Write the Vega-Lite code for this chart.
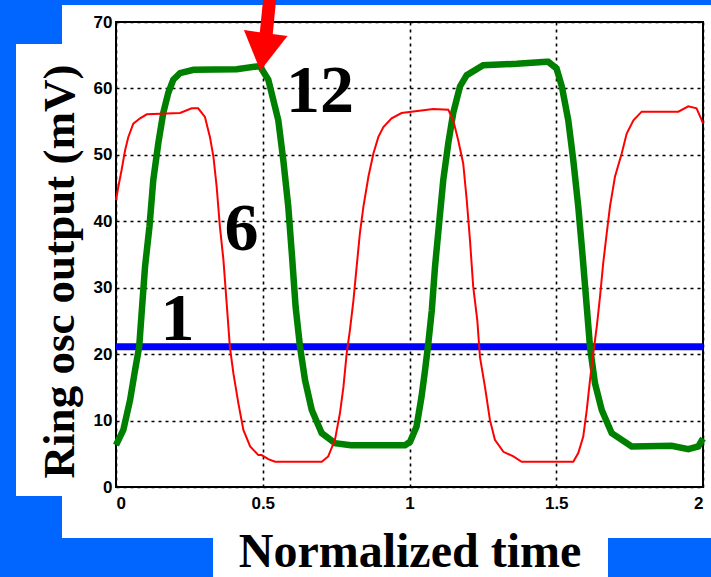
{
  "$schema": "https://vega.github.io/schema/vega-lite/v6.json",
  "width": 587,
  "height": 465,
  "autosize": {"type": "none"},
  "padding": {"left": 116, "top": 22, "right": 8, "bottom": 90},
  "background": "white",
  "config": {
    "view": {"stroke": "black", "strokeWidth": 2},
    "numberFormat": "~f",
    "axis": {
      "grid": true, "gridColor": "black", "gridDash": [3, 4], "gridWidth": 1.6, "gridOpacity": 1,
      "domain": false, "ticks": false,
      "labelFont": "Liberation Sans", "labelFontWeight": "bold", "labelFontSize": 17, "labelColor": "black",
      "titleFont": "Liberation Serif", "titleFontWeight": "bold", "titleColor": "black"
    },
    "axisX": {"tickCount": 4, "labelPadding": 8, "titleFontSize": 48, "titleBaseline": "alphabetic", "titleY": 79},
    "axisY": {"tickCount": 8, "labelPadding": 4, "titleFontSize": 45, "titleBaseline": "alphabetic", "titleX": -43, "titleY": 249}
  },
  "datasets": {
    "curves": [
      {"t":0,"v":6.3,"n":"12"},{"t":0.025,"v":8.6,"n":"12"},{"t":0.048,"v":13.1,"n":"12"},{"t":0.065,"v":17.6,"n":"12"},{"t":0.079,"v":21.1,"n":"12"},{"t":0.088,"v":26.6,"n":"12"},{"t":0.099,"v":33.2,"n":"12"},{"t":0.114,"v":39.2,"n":"12"},{"t":0.127,"v":46.2,"n":"12"},{"t":0.144,"v":51.7,"n":"12"},{"t":0.161,"v":56.3,"n":"12"},{"t":0.178,"v":59.3,"n":"12"},{"t":0.195,"v":61.3,"n":"12"},{"t":0.218,"v":62.3,"n":"12"},{"t":0.264,"v":62.8,"n":"12"},{"t":0.411,"v":62.9,"n":"12"},{"t":0.479,"v":63.3,"n":"12"},{"t":0.491,"v":63.3,"n":"12"},{"t":0.519,"v":61.3,"n":"12"},{"t":0.553,"v":55.2,"n":"12"},{"t":0.570,"v":49.2,"n":"12"},{"t":0.587,"v":42.2,"n":"12"},{"t":0.599,"v":35.2,"n":"12"},{"t":0.612,"v":27.1,"n":"12"},{"t":0.627,"v":21.1,"n":"12"},{"t":0.644,"v":16.1,"n":"12"},{"t":0.667,"v":11.6,"n":"12"},{"t":0.701,"v":8.1,"n":"12"},{"t":0.746,"v":6.6,"n":"12"},{"t":0.8,"v":6.3,"n":"12"},{"t":0.985,"v":6.3,"n":"12"},{"t":1.002,"v":6.8,"n":"12"},{"t":1.024,"v":9.1,"n":"12"},{"t":1.041,"v":13.6,"n":"12"},{"t":1.053,"v":17.6,"n":"12"},{"t":1.064,"v":21.6,"n":"12"},{"t":1.076,"v":26.6,"n":"12"},{"t":1.087,"v":33.2,"n":"12"},{"t":1.102,"v":40.2,"n":"12"},{"t":1.115,"v":46.2,"n":"12"},{"t":1.132,"v":51.7,"n":"12"},{"t":1.149,"v":56.3,"n":"12"},{"t":1.172,"v":60.3,"n":"12"},{"t":1.195,"v":62.0,"n":"12"},{"t":1.251,"v":63.5,"n":"12"},{"t":1.365,"v":63.7,"n":"12"},{"t":1.467,"v":64.0,"n":"12"},{"t":1.473,"v":64.0,"n":"12"},{"t":1.501,"v":63.0,"n":"12"},{"t":1.519,"v":60.3,"n":"12"},{"t":1.541,"v":55.2,"n":"12"},{"t":1.558,"v":49.2,"n":"12"},{"t":1.575,"v":42.2,"n":"12"},{"t":1.589,"v":35.2,"n":"12"},{"t":1.604,"v":27.1,"n":"12"},{"t":1.615,"v":21.1,"n":"12"},{"t":1.632,"v":15.6,"n":"12"},{"t":1.655,"v":11.6,"n":"12"},{"t":1.689,"v":8.1,"n":"12"},{"t":1.757,"v":6.1,"n":"12"},{"t":1.893,"v":6.2,"n":"12"},{"t":1.950,"v":5.7,"n":"12"},{"t":1.984,"v":6.1,"n":"12"},{"t":2.0,"v":7.3,"n":"12"},
      {"t":0,"v":43.2,"n":"6"},{"t":0.008,"v":45.2,"n":"6"},{"t":0.019,"v":47.7,"n":"6"},{"t":0.031,"v":50.7,"n":"6"},{"t":0.042,"v":52.7,"n":"6"},{"t":0.059,"v":54.7,"n":"6"},{"t":0.082,"v":55.5,"n":"6"},{"t":0.105,"v":56.1,"n":"6"},{"t":0.218,"v":56.3,"n":"6"},{"t":0.258,"v":57.0,"n":"6"},{"t":0.280,"v":57.0,"n":"6"},{"t":0.303,"v":55.7,"n":"6"},{"t":0.320,"v":52.7,"n":"6"},{"t":0.332,"v":49.7,"n":"6"},{"t":0.343,"v":45.2,"n":"6"},{"t":0.354,"v":39.2,"n":"6"},{"t":0.366,"v":34.2,"n":"6"},{"t":0.377,"v":27.7,"n":"6"},{"t":0.388,"v":21.1,"n":"6"},{"t":0.400,"v":17.1,"n":"6"},{"t":0.417,"v":12.6,"n":"6"},{"t":0.434,"v":8.6,"n":"6"},{"t":0.457,"v":6.1,"n":"6"},{"t":0.485,"v":4.8,"n":"6"},{"t":0.496,"v":4.8,"n":"6"},{"t":0.519,"v":4.2,"n":"6"},{"t":0.542,"v":3.8,"n":"6"},{"t":0.701,"v":3.8,"n":"6"},{"t":0.723,"v":4.6,"n":"6"},{"t":0.746,"v":7.1,"n":"6"},{"t":0.763,"v":11.1,"n":"6"},{"t":0.775,"v":15.1,"n":"6"},{"t":0.786,"v":20.1,"n":"6"},{"t":0.797,"v":23.6,"n":"6"},{"t":0.809,"v":28.1,"n":"6"},{"t":0.820,"v":33.2,"n":"6"},{"t":0.831,"v":38.2,"n":"6"},{"t":0.843,"v":42.2,"n":"6"},{"t":0.860,"v":46.7,"n":"6"},{"t":0.877,"v":50.2,"n":"6"},{"t":0.894,"v":52.7,"n":"6"},{"t":0.911,"v":54.2,"n":"6"},{"t":0.939,"v":55.5,"n":"6"},{"t":0.973,"v":56.3,"n":"6"},{"t":1.081,"v":56.9,"n":"6"},{"t":1.132,"v":56.8,"n":"6"},{"t":1.149,"v":55.2,"n":"6"},{"t":1.166,"v":52.2,"n":"6"},{"t":1.183,"v":48.7,"n":"6"},{"t":1.195,"v":43.2,"n":"6"},{"t":1.206,"v":37.2,"n":"6"},{"t":1.217,"v":30.2,"n":"6"},{"t":1.231,"v":25.1,"n":"6"},{"t":1.240,"v":19.6,"n":"6"},{"t":1.257,"v":15.1,"n":"6"},{"t":1.274,"v":10.1,"n":"6"},{"t":1.291,"v":7.1,"n":"6"},{"t":1.320,"v":5.3,"n":"6"},{"t":1.354,"v":4.6,"n":"6"},{"t":1.382,"v":3.8,"n":"6"},{"t":1.558,"v":3.8,"n":"6"},{"t":1.575,"v":5.1,"n":"6"},{"t":1.592,"v":7.6,"n":"6"},{"t":1.604,"v":11.6,"n":"6"},{"t":1.615,"v":16.1,"n":"6"},{"t":1.626,"v":20.1,"n":"6"},{"t":1.638,"v":24.1,"n":"6"},{"t":1.649,"v":28.6,"n":"6"},{"t":1.660,"v":33.7,"n":"6"},{"t":1.672,"v":38.2,"n":"6"},{"t":1.683,"v":42.2,"n":"6"},{"t":1.700,"v":46.7,"n":"6"},{"t":1.723,"v":50.2,"n":"6"},{"t":1.740,"v":53.2,"n":"6"},{"t":1.763,"v":55.2,"n":"6"},{"t":1.791,"v":56.5,"n":"6"},{"t":1.916,"v":56.5,"n":"6"},{"t":1.950,"v":57.3,"n":"6"},{"t":1.978,"v":57.0,"n":"6"},{"t":1.996,"v":55.2,"n":"6"},{"t":2.0,"v":54.7,"n":"6"}
    ],
    "labels": [
      {"t": 0.695, "v": 56.45, "label": "12"},
      {"t": 0.428, "v": 35.7, "label": "6"},
      {"t": 0.2095, "v": 22.1, "label": "1"}
    ]
  },
  "layer": [
    {
      "data": {"values": [{}]},
      "mark": {"type": "rect", "color": "#0066ff", "clip": false},
      "encoding": {
        "x": {"datum": -0.45, "type": "quantitative", "scale": {"domain": [0, 2], "nice": false}, "axis": {"title": "Normalized time"}},
        "x2": {"datum": -0.3407},
        "y": {"datum": -15, "type": "quantitative", "scale": {"domain": [0, 70], "nice": false}, "axis": {"title": "Ring osc output (mV)"}},
        "y2": {"datum": 75}
      }
    },
    {
      "data": {"values": [{}]},
      "mark": {"type": "rect", "color": "#0066ff", "clip": false},
      "encoding": {
        "x": {"datum": -0.3407, "type": "quantitative", "scale": {"domain": [0, 2], "nice": false}, "axis": {"title": "Normalized time"}},
        "x2": {"datum": -0.184},
        "y": {"datum": 66.69, "type": "quantitative", "scale": {"domain": [0, 70], "nice": false}, "axis": {"title": "Ring osc output (mV)"}},
        "y2": {"datum": 75}
      }
    },
    {
      "data": {"values": [{}]},
      "mark": {"type": "rect", "color": "#0066ff", "clip": false},
      "encoding": {
        "x": {"datum": -0.184, "type": "quantitative", "scale": {"domain": [0, 2], "nice": false}, "axis": {"title": "Normalized time"}},
        "x2": {"datum": 2.1},
        "y": {"datum": 72.56, "type": "quantitative", "scale": {"domain": [0, 70], "nice": false}, "axis": {"title": "Ring osc output (mV)"}},
        "y2": {"datum": 75}
      }
    },
    {
      "data": {"values": [{}]},
      "mark": {"type": "rect", "color": "#0066ff", "clip": false},
      "encoding": {
        "x": {"datum": -0.3407, "type": "quantitative", "scale": {"domain": [0, 2], "nice": false}, "axis": {"title": "Normalized time"}},
        "x2": {"datum": -0.184},
        "y": {"datum": -7.677, "type": "quantitative", "scale": {"domain": [0, 70], "nice": false}, "axis": {"title": "Ring osc output (mV)"}},
        "y2": {"datum": -1.355}
      }
    },
    {
      "data": {"values": [{}]},
      "mark": {"type": "rect", "color": "#0066ff", "clip": false},
      "encoding": {
        "x": {"datum": -0.45, "type": "quantitative", "scale": {"domain": [0, 2], "nice": false}, "axis": {"title": "Normalized time"}},
        "x2": {"datum": 0.3305},
        "y": {"datum": -15, "type": "quantitative", "scale": {"domain": [0, 70], "nice": false}, "axis": {"title": "Ring osc output (mV)"}},
        "y2": {"datum": -7.677}
      }
    },
    {
      "data": {"values": [{}]},
      "mark": {"type": "rect", "color": "#0066ff", "clip": false},
      "encoding": {
        "x": {"datum": 1.6763, "type": "quantitative", "scale": {"domain": [0, 2], "nice": false}, "axis": {"title": "Normalized time"}},
        "x2": {"datum": 2.1},
        "y": {"datum": -15, "type": "quantitative", "scale": {"domain": [0, 70], "nice": false}, "axis": {"title": "Ring osc output (mV)"}},
        "y2": {"datum": -7.677}
      }
    },
    {
      "data": {"values": [{}]},
      "mark": {"type": "rule", "color": "#0000ff", "strokeWidth": 7},
      "encoding": {
        "y": {"datum": 21.1, "type": "quantitative", "scale": {"domain": [0, 70], "nice": false}, "axis": {"title": "Ring osc output (mV)"}}
      }
    },
    {
      "data": {"name": "curves"},
      "transform": [{"filter": "datum.n === '12'"}],
      "mark": {"type": "line", "color": "#008000", "strokeWidth": 6.5, "strokeJoin": "miter"},
      "encoding": {
        "x": {"field": "t", "type": "quantitative", "scale": {"domain": [0, 2], "nice": false}, "axis": {"title": "Normalized time"}},
        "y": {"field": "v", "type": "quantitative", "scale": {"domain": [0, 70], "nice": false}, "axis": {"title": "Ring osc output (mV)"}}
      }
    },
    {
      "data": {"name": "curves"},
      "transform": [{"filter": "datum.n === '6'"}],
      "mark": {"type": "line", "color": "#ff0000", "strokeWidth": 2},
      "encoding": {
        "x": {"field": "t", "type": "quantitative", "scale": {"domain": [0, 2], "nice": false}, "axis": {"title": "Normalized time"}},
        "y": {"field": "v", "type": "quantitative", "scale": {"domain": [0, 70], "nice": false}, "axis": {"title": "Ring osc output (mV)"}}
      }
    },
    {
      "data": {"name": "labels"},
      "mark": {"type": "text", "font": "Liberation Serif", "fontWeight": "bold", "fontSize": 68, "baseline": "alphabetic", "align": "center", "color": "black"},
      "encoding": {
        "x": {"field": "t", "type": "quantitative", "scale": {"domain": [0, 2], "nice": false}, "axis": {"title": "Normalized time"}},
        "y": {"field": "v", "type": "quantitative", "scale": {"domain": [0, 70], "nice": false}, "axis": {"title": "Ring osc output (mV)"}},
        "text": {"field": "label"}
      }
    },
    {
      "data": {"values": [{}]},
      "mark": {"type": "rule", "color": "#ff0000", "strokeWidth": 13, "clip": false},
      "encoding": {
        "x": {"datum": 0.527, "type": "quantitative", "scale": {"domain": [0, 2], "nice": false}, "axis": {"title": "Normalized time"}},
        "x2": {"datum": 0.508},
        "y": {"datum": 75, "type": "quantitative", "scale": {"domain": [0, 70], "nice": false}, "axis": {"title": "Ring osc output (mV)"}},
        "y2": {"datum": 66.5}
      }
    },
    {
      "data": {"values": [{}]},
      "mark": {"type": "point", "shape": "triangle-down", "size": 1936, "angle": 8, "filled": true, "color": "#ff0000", "opacity": 1, "clip": false},
      "encoding": {
        "x": {"datum": 0.501, "type": "quantitative", "scale": {"domain": [0, 2], "nice": false}, "axis": {"title": "Normalized time"}},
        "y": {"datum": 65.5, "type": "quantitative", "scale": {"domain": [0, 70], "nice": false}, "axis": {"title": "Ring osc output (mV)"}}
      }
    }
  ]
}
